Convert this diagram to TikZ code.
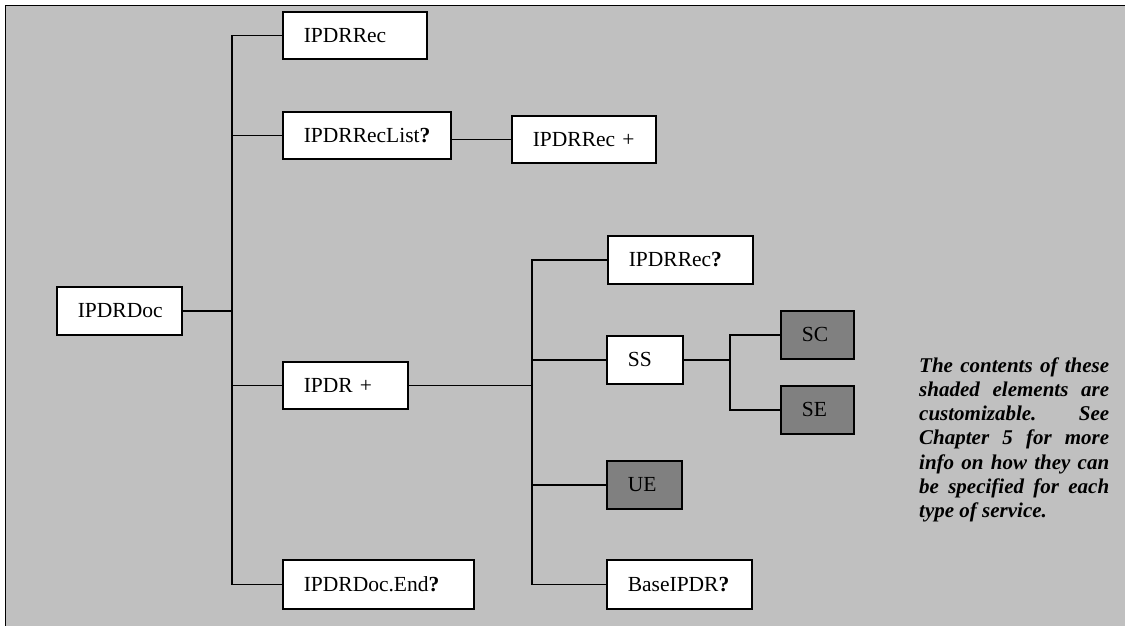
\documentclass[tikz,border=0pt]{standalone}
\usepackage{fontspec}
\setmainfont{Liberation Serif}
\definecolor{panel}{RGB}{192,192,192}
\definecolor{shade}{RGB}{128,128,128}
\tikzset{
  elem/.style={draw=black, line width=1.6pt, fill=white, anchor=north west,
    inner xsep=21pt, inner ysep=0pt, align=left,
    font=\fontsize{21.5}{25}\selectfont},
  shaded/.style={elem, fill=shade},
  link/.style={draw=black, line width=1.6pt},
}
\newcommand{\opt}{{\bfseries ?}}
\begin{document}
\begin{tikzpicture}[x=1pt,y=-1pt]
\useasboundingbox (0,0) rectangle (1125,625);
% background panel with its top and left rules
\fill[panel] (5.5,5.5) rectangle (1130,630);
\draw[line width=1.6pt] (5,5.5) -- (1130,5.5);
\draw[line width=1.6pt] (5.5,5) -- (5.5,630);

% elements
\node[elem, text width=83pt,  minimum height=48pt] (doc)     at (56,286)  {IPDRDoc};
\node[elem, text width=102pt, minimum height=47pt] (rec1)    at (282,11)  {IPDRRec};
\node[elem, text width=126pt, minimum height=47pt] (reclist) at (282,111) {IPDRRecList\opt};
\node[elem, text width=102pt, minimum height=47pt] (recplus) at (511,115) {IPDRRec +};
\node[elem, text width=83pt,  minimum height=47pt] (ipdr)    at (282,361) {IPDR +};
\node[elem, text width=149pt, minimum height=49pt] (docend)  at (282,559) {IPDRDoc.End\opt};
\node[elem, text width=103pt, minimum height=48pt] (recq)    at (607,235) {IPDRRec\opt};
\node[elem, text width=34pt,  minimum height=48pt] (ss)      at (606,335) {SS};
\node[shaded, text width=31pt, minimum height=48pt] (sc)     at (780,310) {SC};
\node[shaded, text width=31pt, minimum height=48pt] (se)     at (780,385) {SE};
\node[shaded, text width=33pt, minimum height=48pt] (ue)     at (606,460) {UE};
\node[elem, text width=103pt, minimum height=49pt] (base)    at (606,559) {BaseIPDR\opt};

% junction columns
\coordinate (ja) at (232,0);
\coordinate (jb) at (532,0);
\coordinate (jc) at (730,0);

% first level
\draw[link] (rec1.west) -| (ja |- docend.west) -- (docend.west);
\draw[link] (doc.east) -- (doc.east -| ja);
\draw[link] (reclist.west) -- (reclist.west -| ja);
\draw[link] (ipdr.west) -- (ipdr.west -| ja);
\draw[link] (recplus.west -| reclist.east) -- (recplus.west);

% second level
\draw[link] (recq.west) -| (jb |- base.west) -- (base.west);
\draw[link] (ipdr.east) -- (ipdr.east -| jb);
\draw[link] (ss.west) -- (ss.west -| jb);
\draw[link] (ue.west) -- (ue.west -| jb);

% third level
\draw[link] (sc.west) -| (jc |- se.west) -- (se.west);
\draw[link] (ss.east) -- (ss.east -| jc);

% note
\node[anchor=base west, inner sep=0pt] (note) at (919,372)
  {\parbox[t]{190pt}{\fontsize{21}{24.3}\selectfont\bfseries\itshape\hbadness=10000
   The contents of these\linebreak
   shaded elements are\linebreak
   customizable.\ See\linebreak
   Chapter 5 for more\linebreak
   info on how they can\linebreak
   be specified for each\linebreak
   type of service.}};
\end{tikzpicture}
\end{document}
